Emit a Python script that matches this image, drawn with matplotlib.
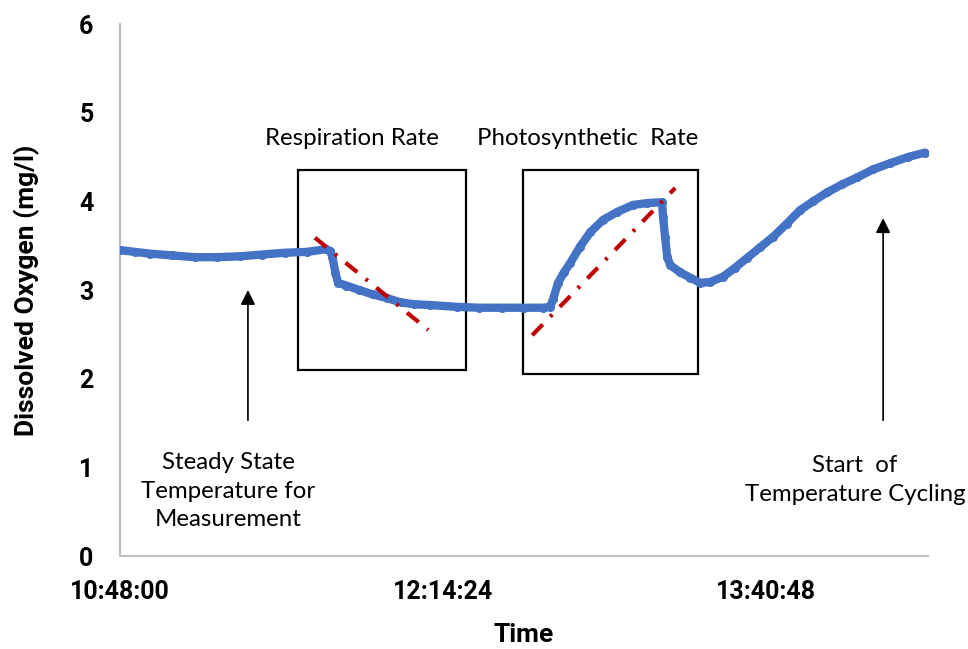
import matplotlib
matplotlib.use("Agg")
import matplotlib.pyplot as plt
from matplotlib.patches import Rectangle

# minutes after 10:48:00
t_min = [0, 4, 8, 14, 20, 26, 32, 38, 44, 50, 55, 56.2, 56.8, 57.6, 58.3, 60.5, 64, 67.5,
         71.3, 75, 78.5, 83, 90, 96, 102, 108, 113, 115, 115.8, 117.1, 118.7, 120.3, 123,
         125.7, 129.1, 132.9, 137.2, 140.9, 144.9, 145.2, 145.7, 146.3, 147.1, 149.7, 152.4,
         155.1, 157.8, 161.2, 164.4, 167.6, 171.1, 174.6, 178.3, 181.8, 185.3, 189, 193,
         197.1, 201.3, 205.9, 210.7, 215.2]
do_mgl = [3.45, 3.43, 3.41, 3.39, 3.37, 3.37, 3.38, 3.40, 3.42, 3.43, 3.46, 3.44, 3.37, 3.19,
          3.08, 3.05, 3.00, 2.95, 2.91, 2.86, 2.84, 2.83, 2.81, 2.80, 2.80, 2.80, 2.80, 2.81,
          2.90, 3.08, 3.20, 3.30, 3.49, 3.65, 3.79, 3.88, 3.96, 3.98, 3.99, 3.82, 3.60, 3.37,
          3.28, 3.20, 3.14, 3.08, 3.09, 3.15, 3.25, 3.36, 3.48, 3.60, 3.75, 3.90, 4.00, 4.10,
          4.19, 4.27, 4.36, 4.43, 4.50, 4.55]

resp_fit_t = [52.1, 82.4]
resp_fit_v = [3.59, 2.55]
photo_fit_t = [110.2, 148.4]
photo_fit_v = [2.49, 4.15]

xtick_pos = [0, 86.4, 172.8]
xtick_labels = ["10:48:00", "12:14:24", "13:40:48"]
yticks = [0, 1, 2, 3, 4, 5, 6]

BLUE = "#4472C4"
RED = "#C00000"
FONT = "Lato"
BFONT = "Roboto"

fig = plt.figure(figsize=(9.68, 6.49), dpi=100)
ax = fig.add_axes([120/968, (649-556)/649, (928-120)/968, (556-24)/649])

ax.plot(t_min, do_mgl, color=BLUE, lw=6, solid_capstyle="round", solid_joinstyle="round", zorder=3)
ax.plot(t_min, do_mgl, "o", color=BLUE, ms=5.5, zorder=3)

ls = (0, (3.6, 2.6, 0.7, 2.6))
ax.plot(resp_fit_t, resp_fit_v, color=RED, lw=3, linestyle=ls, dash_capstyle="butt", zorder=4)
ax.plot(photo_fit_t, photo_fit_v, color=RED, lw=3, linestyle=ls, dash_capstyle="butt", zorder=4)

ax.add_patch(Rectangle((47.6, 2.10), 92.5-47.6, 4.35-2.10, fill=False, ec="black", lw=1.6, zorder=2))
ax.add_patch(Rectangle((107.8, 2.05), 154.5-107.8, 4.35-2.05, fill=False, ec="black", lw=1.6, zorder=2))

TS = 17.3
ax.text(62.0, 4.71, "Respiration Rate", ha="center", va="center", fontsize=TS, family=FONT)
ax.text(125.1, 4.71, "Photosynthetic  Rate", ha="center", va="center", fontsize=TS, family=FONT)
ax.text(28.9, 0.73, "Steady State\nTemperature for\nMeasurement", ha="center", va="center",
        fontsize=TS, family=FONT, linespacing=1.45)
ax.text(196.5, 0.86, "Start  of\nTemperature Cycling", ha="center", va="center",
        fontsize=TS, family=FONT, linespacing=1.45)

arrow = dict(arrowstyle="-|>", mutation_scale=22, lw=1.2, color="black", shrinkA=0, shrinkB=0)
ax.annotate("", xy=(34.2, 3.0), xytext=(34.2, 1.53), arrowprops=arrow)
ax.annotate("", xy=(204, 3.81), xytext=(204, 1.53), arrowprops=arrow)

ax.set_xlim(0, 216)
ax.set_ylim(0, 6)
ax.set_xticks(xtick_pos)
ax.set_xticklabels(xtick_labels)
ax.set_yticks(yticks)
for s in ["top", "right"]:
    ax.spines[s].set_visible(False)
for s in ["left", "bottom"]:
    ax.spines[s].set_color("#BFBFBF")
    ax.spines[s].set_linewidth(1.5)
ax.tick_params(length=0)
ax.tick_params(axis="x", pad=17)
ax.tick_params(axis="y", pad=19)
for lab in ax.get_xticklabels() + ax.get_yticklabels():
    lab.set_fontsize(18)
    lab.set_fontweight("bold")
    lab.set_family(BFONT)

ax.set_xlabel("Time", fontsize=19, fontweight="bold", family=BFONT, va="center")
ax.set_ylabel("Dissolved Oxygen (mg/l)", fontsize=19, fontweight="bold", family=BFONT, va="center")
ax.xaxis.set_label_coords(0.5, (556-635)/532)
ax.yaxis.set_label_coords((27-120)/808, (556-290)/532)

fig.savefig("out.png", dpi=100)
